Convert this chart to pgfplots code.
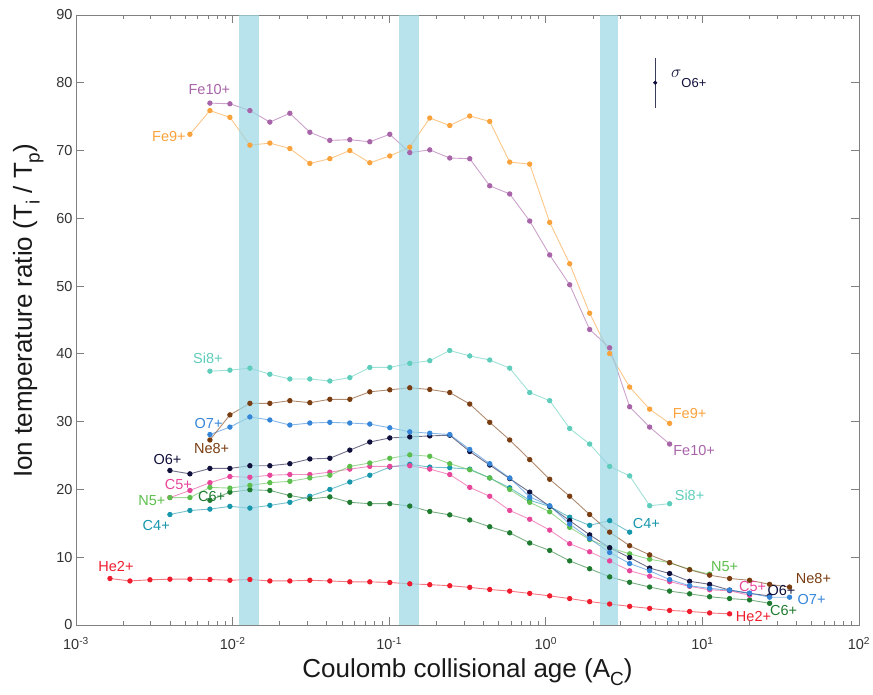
\documentclass[border=0pt]{standalone}
\usepackage{pgfplots}
\pgfplotsset{compat=1.18}
\usepackage{fontspec}
\setmainfont{Liberation Sans}
\setsansfont{Liberation Sans}

\definecolor{cFeNine}{HTML}{F9A23B}
\definecolor{cFeTen}{HTML}{A864A8}
\definecolor{cSi}{HTML}{5FCDBB}
\definecolor{cNe}{HTML}{7A3D12}
\definecolor{cOSeven}{HTML}{3586D9}
\definecolor{cOSix}{HTML}{10103C}
\definecolor{cNFive}{HTML}{5CBE4C}
\definecolor{cCFive}{HTML}{E8469B}
\definecolor{cCSix}{HTML}{1F7B30}
\definecolor{cCFour}{HTML}{1797AC}
\definecolor{cHe}{HTML}{EE1D2E}
\definecolor{cErr}{HTML}{3B3B5C}
\definecolor{band}{RGB}{154,214,228}

\newcommand{\lsub}[1]{\raisebox{-0.3em}{\fontsize{19}{20}\selectfont #1}}

\pgfplotsset{
  ion/.style={color=#1, line width=0.9pt, draw opacity=0.6,
    mark=*, mark size=2.2pt,
    mark options={solid, fill=#1, draw opacity=1, fill opacity=1}},
}
\tikzset{lbl/.style={font=\fontsize{14.5}{16}\selectfont, inner sep=0pt}}

\begin{document}
\begin{tikzpicture}
\useasboundingbox (0,0) rectangle (873pt,694pt);
\begin{axis}[
  at={(76pt,69pt)}, anchor=south west,
  scale only axis, width=783pt, height=610pt,
  xmode=log, xmin=1e-3, xmax=1e2, ymin=0, ymax=90,
  xtick={1e-3,1e-2,1e-1,1,10,100},
  xticklabels={10\textsuperscript{-3},10\textsuperscript{-2},10\textsuperscript{-1},10\textsuperscript{0},10\textsuperscript{1},10\textsuperscript{2}},
  minor xtick={2e-3,3e-3,4e-3,5e-3,6e-3,7e-3,8e-3,9e-3,
    2e-2,3e-2,4e-2,5e-2,6e-2,7e-2,8e-2,9e-2,
    0.2,0.3,0.4,0.5,0.6,0.7,0.8,0.9,2,3,4,5,6,7,8,9,
    20,30,40,50,60,70,80,90},
  ytick={0,10,...,90},
  /pgf/number format/assume math mode=true,
  tick align=inside,
  major tick length=8pt, minor tick length=4pt,
  axis line style={black!50, line width=0.8pt},
  every tick/.style={black!50, line width=0.8pt},
  tick label style={font=\fontsize{14.5}{16}\selectfont, text=black!80},
  xticklabel style={yshift=-9pt},
  xlabel={Coulomb collisional age (A\lsub{C})},
  ylabel={Ion temperature ratio (T\lsub{i} / T\lsub{p})},
  every axis x label/.style={at={(axis description cs:0.5,-0.077)}, anchor=center,
    font=\fontsize{26}{28}\selectfont, text=black!90},
  every axis y label/.style={at={(axis description cs:-0.061,0.515)}, rotate=90, anchor=center,
    font=\fontsize{26}{28}\selectfont, text=black!90},
  clip=false,
]

% He2+
\addplot[ion=cHe] coordinates {(0.001648,6.86) (0.002211,6.5) (0.002967,6.67) (0.003980,6.76) (0.005339,6.76) (0.007165,6.71) (0.009612,6.6) (0.012897,6.71) (0.017298,6.5) (0.023207,6.5) (0.031137,6.6) (0.041774,6.5) (0.056051,6.37) (0.075199,6.37) (0.10088,6.27) (0.13537,6.08) (0.18159,5.95) (0.24363,5.8) (0.32689,5.55) (0.43853,5.24) (0.58831,5.0) (0.78958,4.66) (1.0590,4.3) (1.4208,3.9) (1.9061,3.45) (2.5575,3.1) (3.4310,2.75) (4.6036,2.45) (6.1759,2.15) (8.2850,2.0) (11.117,1.78) (14.915,1.65)};
% C4+
\addplot[ion=cCFour] coordinates {(0.003980,16.3) (0.005339,16.9) (0.007165,17.1) (0.009612,17.5) (0.012897,17.25) (0.017298,17.65) (0.023207,18.1) (0.031137,19.0) (0.041774,20.0) (0.056051,21.1) (0.075199,22.1) (0.10088,23.3) (0.13537,23.7) (0.18159,23.3) (0.24363,23.2) (0.32689,23.0) (0.43853,21.7) (0.58831,20.25) (0.78958,18.4) (1.0590,17.5) (1.4208,15.9) (1.9061,14.7) (2.5575,15.4) (3.4310,13.7)};
% C6+
\addplot[ion=cCSix] coordinates {(0.007165,18.4) (0.009612,19.6) (0.012897,19.95) (0.017298,19.85) (0.023207,19.1) (0.031137,18.6) (0.041774,18.9) (0.056051,18.1) (0.075199,17.9) (0.10088,17.9) (0.13537,17.55) (0.18159,16.75) (0.24363,16.25) (0.32689,15.5) (0.43853,14.5) (0.58831,13.6) (0.78958,12.1) (1.0590,11.0) (1.4208,9.46) (1.9061,8.3) (2.5575,7.1) (3.4310,6.3) (4.6036,5.6) (6.1759,5.0) (8.2850,4.6) (11.117,4.17) (14.915,3.9) (20.010,3.7) (26.853,3.2)};
% C5+
\addplot[ion=cCFive] coordinates {(0.003980,18.8) (0.005339,19.85) (0.007165,21.0) (0.009612,21.9) (0.012897,21.8) (0.017298,22.1) (0.023207,22.2) (0.031137,22.2) (0.041774,22.55) (0.056051,23.0) (0.075199,23.4) (0.10088,23.4) (0.13537,23.5) (0.18159,23.0) (0.24363,22.2) (0.32689,20.3) (0.43853,19.0) (0.58831,16.9) (0.78958,15.6) (1.0590,14.0) (1.4208,12.0) (1.9061,10.8) (2.5575,9.46) (3.4310,8.0) (4.6036,7.2) (6.1759,6.4) (8.2850,5.7) (11.117,5.2) (14.915,5.05) (20.010,4.4)};
% N5+
\addplot[ion=cNFive] coordinates {(0.003980,18.8) (0.005339,18.8) (0.007165,20.3) (0.009612,20.2) (0.012897,20.6) (0.017298,21.0) (0.023207,21.2) (0.031137,21.7) (0.041774,22.1) (0.056051,23.4) (0.075199,23.9) (0.10088,24.6) (0.13537,25.1) (0.18159,24.9) (0.24363,23.8) (0.32689,22.9) (0.43853,21.7) (0.58831,20.0) (0.78958,18.1) (1.0590,16.7) (1.4208,14.4) (1.9061,12.6) (2.5575,11.4) (3.4310,10.5) (4.6036,9.7) (6.1759,9.2) (8.2850,8.2) (11.117,7.5)};
% O6+
\addplot[ion=cOSix] coordinates {(0.003980,22.8) (0.005339,22.3) (0.007165,23.1) (0.009612,23.1) (0.012897,23.5) (0.017298,23.5) (0.023207,23.8) (0.031137,24.5) (0.041774,24.6) (0.056051,25.8) (0.075199,27.0) (0.10088,27.6) (0.13537,27.75) (0.18159,27.9) (0.24363,28.0) (0.32689,25.6) (0.43853,23.6) (0.58831,21.6) (0.78958,19.6) (1.0590,17.5) (1.4208,15.4) (1.9061,13.3) (2.5575,11.4) (3.4310,9.95) (4.6036,8.4) (6.1759,7.6) (8.2850,6.45) (11.117,6.0) (14.915,5.15) (20.010,4.66) (26.853,4.3)};
% O7+
\addplot[ion=cOSeven] coordinates {(0.007165,28.1) (0.009612,29.2) (0.012897,30.7) (0.017298,30.25) (0.023207,29.5) (0.031137,29.8) (0.041774,29.9) (0.056051,29.8) (0.075199,29.65) (0.10088,29.1) (0.13537,28.5) (0.18159,28.3) (0.24363,28.1) (0.32689,25.9) (0.43853,23.8) (0.58831,21.7) (0.78958,18.9) (1.0590,17.6) (1.4208,14.9) (1.9061,12.75) (2.5575,10.7) (3.4310,9.07) (4.6036,8.0) (6.1759,6.7) (8.2850,5.8) (11.117,5.4) (14.915,5.15) (20.010,4.7) (26.853,4.1) (36.024,4.1)};
% Ne8+
\addplot[ion=cNe] coordinates {(0.007165,27.3) (0.009612,31.0) (0.012897,32.7) (0.017298,32.7) (0.023207,33.1) (0.031137,32.8) (0.041774,33.3) (0.056051,33.3) (0.075199,34.4) (0.10088,34.7) (0.13537,35.0) (0.18159,34.75) (0.24363,34.3) (0.32689,32.6) (0.43853,29.9) (0.58831,27.3) (0.78958,24.4) (1.0590,21.5) (1.4208,19.0) (1.9061,16.3) (2.5575,13.7) (3.4310,11.7) (4.6036,10.35) (6.1759,9.2) (8.2850,8.15) (11.117,7.35) (14.915,6.86) (20.010,6.6) (26.853,6.0) (36.024,5.6)};
% Si8+
\addplot[ion=cSi] coordinates {(0.007165,37.45) (0.009612,37.6) (0.012897,37.9) (0.017298,37.0) (0.023207,36.3) (0.031137,36.3) (0.041774,36.0) (0.056051,36.5) (0.075199,38.0) (0.10088,38.0) (0.13537,38.6) (0.18159,39.0) (0.24363,40.5) (0.32689,39.7) (0.43853,39.1) (0.58831,37.9) (0.78958,34.3) (1.0590,33.1) (1.4208,29.0) (1.9061,26.7) (2.5575,23.4) (3.4310,22.0) (4.6036,17.6) (6.1759,17.9)};
% Fe9+
\addplot[ion=cFeNine] coordinates {(0.005339,72.4) (0.007165,75.9) (0.009612,74.9) (0.012897,70.8) (0.017298,71.1) (0.023207,70.3) (0.031137,68.1) (0.041774,68.8) (0.056051,70.0) (0.075199,68.2) (0.10088,69.2) (0.13537,70.5) (0.18159,74.8) (0.24363,73.7) (0.32689,75.1) (0.43853,74.3) (0.58831,68.3) (0.78958,68.0) (1.0590,59.4) (1.4208,53.3) (1.9061,46.0) (2.5575,40.05) (3.4310,35.1) (4.6036,31.85) (6.1759,29.75)};
% Fe10+
\addplot[ion=cFeTen] coordinates {(0.007165,77.0) (0.009612,76.9) (0.012897,75.9) (0.017298,74.2) (0.023207,75.5) (0.031137,72.7) (0.041774,71.5) (0.056051,71.6) (0.075199,71.3) (0.10088,72.4) (0.13537,69.7) (0.18159,70.1) (0.24363,68.9) (0.32689,68.8) (0.43853,64.8) (0.58831,63.6) (0.78958,59.6) (1.0590,54.6) (1.4208,50.2) (1.9061,43.6) (2.5575,40.9) (3.4310,32.2) (4.6036,29.2) (6.1759,26.7)};

% shaded bands, drawn over the curves
\addplot[draw=none, fill=band, fill opacity=0.7] coordinates {(0.0110,90) (0.0148,90)} \closedcycle;
\addplot[draw=none, fill=band, fill opacity=0.7] coordinates {(0.1156,90) (0.154,90)} \closedcycle;
\addplot[draw=none, fill=band, fill opacity=0.7] coordinates {(2.21,90) (2.90,90)} \closedcycle;

% typical uncertainty
\addplot[cOSix, mark=*, mark size=1.8pt,
  error bars/.cd, y dir=both, y explicit, error mark=none,
  error bar style={cErr, line width=1.3pt}]
  coordinates {(5,80) +- (0,3.7)};
\node[anchor=west, text=cOSix, inner sep=0pt] at (axis cs:6.3,80.6)
  {\fontsize{16}{16}\selectfont$\sigma$\raisebox{-1.1ex}{\fontsize{13}{14}\selectfont O6+}};

% labels
\node[lbl, text=cFeTen] at (axis cs:0.00711,79.0) {Fe10+};
\node[lbl, text=cFeNine] at (axis cs:0.00392,72.1) {Fe9+};
\node[lbl, text=cFeNine] at (axis cs:8.28,31.2) {Fe9+};
\node[lbl, text=cFeTen] at (axis cs:8.85,25.7) {Fe10+};
\node[lbl, text=cSi] at (axis cs:0.00695,39.3) {Si8+};
\node[lbl, text=cSi] at (axis cs:8.28,19.2) {Si8+};
\node[lbl, text=cOSeven] at (axis cs:0.00703,29.75) {O7+};
\node[lbl, text=cNe] at (axis cs:0.00735,26.0) {Ne8+};
\node[lbl, text=cOSix] at (axis cs:0.00384,24.4) {O6+};
\node[lbl, text=cCFive] at (axis cs:0.00451,20.8) {C5+};
\node[lbl, text=cNFive] at (axis cs:0.00305,18.3) {N5+};
\node[lbl, text=cCSix] at (axis cs:0.00735,19.0) {C6+};
\node[lbl, text=cCFour] at (axis cs:0.003254,14.7) {C4+};
\node[lbl, text=cCFour] at (axis cs:4.385,15.0) {C4+};
\node[lbl, text=cNFive] at (axis cs:13.86,8.6) {N5+};
\node[lbl, text=cNe] at (axis cs:51.2,6.9) {Ne8+};
\node[lbl, text=cCFive] at (axis cs:20.9,5.7) {C5+};
\node[lbl, text=cOSix] at (axis cs:32.0,5.15) {O6+};
\node[lbl, text=cOSeven] at (axis cs:49.8,3.8) {O7+};
\node[lbl, text=cCSix] at (axis cs:32.97,2.2) {C6+};
\node[lbl, text=cHe] at (axis cs:21.2,1.2) {He2+};
\node[lbl, text=cHe] at (axis cs:0.0018,8.6) {He2+};
\end{axis}
\end{tikzpicture}
\end{document}
